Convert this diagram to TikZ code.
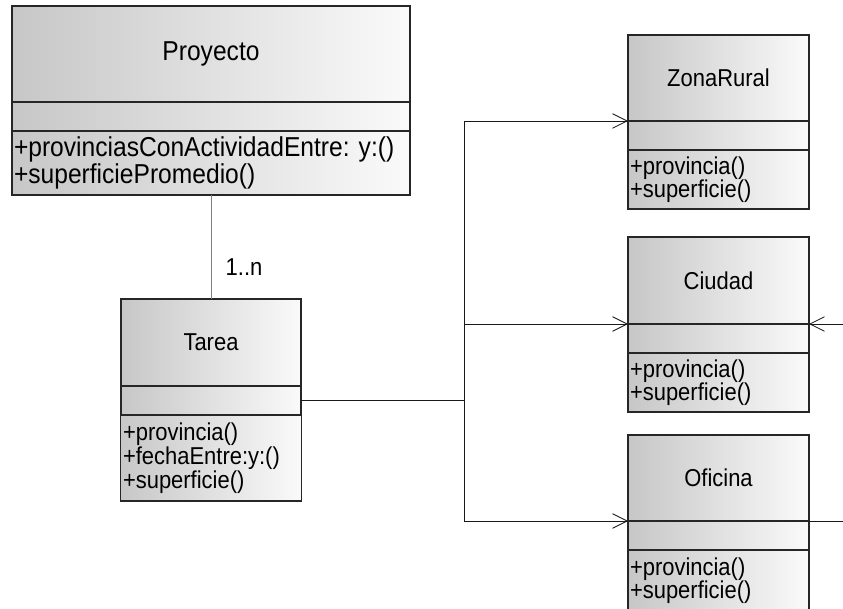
\documentclass[tikz,border=0pt]{standalone}
\usepackage{fontspec}
\setmainfont{Liberation Sans}[FakeStretch=0.9]
\usetikzlibrary{positioning, arrows.meta}

\tikzstyle{classhead} = [rectangle, draw=black!85, line width=0.9pt, left color=black!22, right color=black!2, minimum width=135.75pt, minimum height=64.5pt, inner sep=0pt, outer sep=0pt, font=\fontsize{18.3}{17.25}\selectfont]
\tikzstyle{classattr} = [classhead, minimum height=21.75pt]
\tikzstyle{classops} = [classhead, minimum height=44.25pt, text width=132.75pt, inner xsep=1.5pt, inner ysep=1pt, align=left]
\tikzstyle{link} = [line width=0.6pt, black!90]
\tikzstyle{arrow} = [link, -{Straight Barb[length=11pt,width=11pt]}]

\begin{document}
\begin{tikzpicture}[x=0.75pt, y=-0.75pt]
\useasboundingbox (0,0) rectangle (843,609);

% Classes
\node (proyecto) [classhead, anchor=north, minimum width=298.5pt, minimum height=72pt, font=\fontsize{20.5}{17.25}\selectfont] at (211,6) {Proyecto};
\node (proyectoattr) [classattr, below=0pt of proyecto, minimum width=298.5pt] {};
\node (proyectoops) [classops, below=0pt of proyectoattr, text width=295.5pt, minimum height=48pt, font=\fontsize{20.5}{17.25}\selectfont] {+provinciasConActividadEntre:\ y:()\\+superficiePromedio()};

\node (tarea) [classhead, anchor=north, minimum width=135pt, minimum height=65.25pt] at (211,299) {Tarea};
\node (tareaattr) [classattr, below=0pt of tarea, minimum width=135pt] {};
\node (tareaops) [classops, below=0pt of tareaattr, text width=132pt, minimum height=64.5pt, font=\fontsize{18.3}{15}\selectfont] {+provincia()\\+fechaEntre:y:()\\+superficie()};

\node (zonarural) [classhead, anchor=north] at (718.5,35) {ZonaRural};
\node (zonaruralattr) [classattr, below=0pt of zonarural] {};
\node (zonaruralops) [classops, below=0pt of zonaruralattr] {+provincia()\\+superficie()};

\node (ciudad) [classhead, anchor=north, minimum height=65.25pt] at (718.5,237) {Ciudad};
\node (ciudadattr) [classattr, below=0pt of ciudad] {};
\node (ciudadops) [classops, below=0pt of ciudadattr] {+provincia()\\+superficie()};

\node (oficina) [classhead, anchor=north] at (718.5,435) {Oficina};
\node (oficinaattr) [classattr, below=0pt of oficina] {};
\node (oficinaops) [classops, below=0pt of oficinaattr, minimum height=45.75pt] {+provincia()\\+superficie()};

% Association
\draw [link, black!50] (proyectoops) -- (tarea);
\node (mult) [font=\fontsize{18.3}{17.25}\selectfont] at (244,267) {1..n};

% Connectors
\coordinate (fork) at (tareaattr.east -| 464,0);
\coordinate (ciudadin) at (843,324);
\coordinate (oficinaout) at (843,521);
\draw [link] (tareaattr.east) -- (fork);
\draw [arrow] (fork) |- (zonarural.south west);
\draw [arrow] (fork) |- (ciudad.south west);
\draw [arrow] (fork) |- (oficina.south west);
\draw [arrow] (ciudadin) -- (ciudad.south east);
\draw [link] (oficina.south east) -- (oficinaout);

\end{tikzpicture}
\end{document}
